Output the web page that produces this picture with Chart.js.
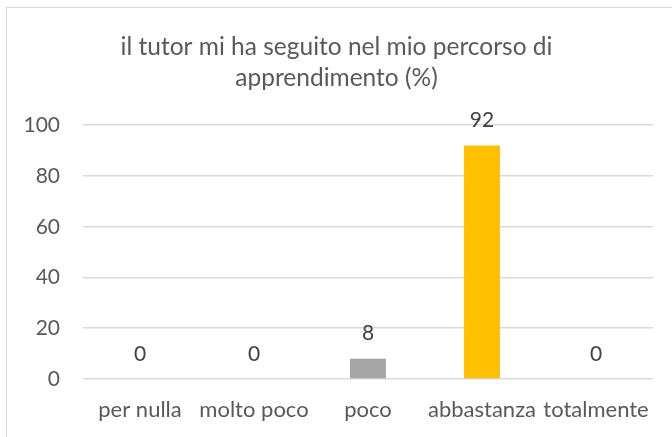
<!DOCTYPE html>
<html>
<head>
<meta charset="utf-8">
<script src="https://cdn.jsdelivr.net/npm/chart.js@4"></script>
<style>
  html, body { margin: 0; padding: 0; background: #fff; }
  body { width: 672px; height: 437px; position: relative; overflow: hidden; }
  #frame {
    position: absolute; left: 6px; top: 7px; right: -10px; bottom: -10px;
    border-left: 1.5px solid #d9d9d9; border-top: 1.5px solid #d9d9d9;
  }
  #wrap { position: absolute; left: 0; top: 0; width: 672px; height: 437px; }
</style>
</head>
<body>
<div id="frame"></div>
<div id="wrap"><canvas id="tutorCanvas" width="672" height="437"></canvas></div>
<script>
// Data
const categories = ['per nulla', 'molto poco', 'poco', 'abbastanza', 'totalmente'];
const percentages = [0, 0, 8, 92, 0];
const barColors = ['#4472C4', '#ED7D31', '#A5A5A5', '#FFC000', '#5B9BD5'];
const yTicks = [0, 20, 40, 60, 80, 100];
const titleLines = ['il tutor mi ha seguito nel mio percorso di', 'apprendimento (%)'];

const FONT = 'Lato, "Open Sans", sans-serif';

// value labels above the bars
const valueLabels = {
    id: 'valueLabels',
    afterDatasetsDraw(chart) {
        const ctx = chart.ctx;
        const meta = chart.getDatasetMeta(0);
        ctx.save();
        ctx.fillStyle = '#404040';
        ctx.font = '21px ' + FONT;
        ctx.textAlign = 'center';
        ctx.textBaseline = 'middle';
        meta.data.forEach((bar, i) => {
            ctx.fillText(String(percentages[i]), bar.x, bar.y - 25);
        });
        ctx.restore();
    }
};

const tutorContext = document.getElementById('tutorCanvas').getContext('2d');

new Chart(tutorContext, {
    type: 'bar',
    data: {
        labels: categories,
        datasets: [
            {
                label: 'il tutor mi ha seguito',
                data: percentages,
                backgroundColor: barColors,
                borderWidth: 0,
                categoryPercentage: 1,
                barPercentage: 0.315
            }
        ]
    },
    options: {
        responsive: false,
        animation: false,
        layout: {
            padding: { left: 20, right: 19, top: 31.5, bottom: 13 }
        },
        scales: {
            x: {
                afterFit(scale) { scale.height = 45; },
                grid: { display: false, drawTicks: false },
                border: { display: false },
                ticks: {
                    color: '#595959',
                    font: { family: FONT, size: 22 },
                    padding: 18,
                    maxRotation: 0,
                    autoSkip: false
                }
            },
            y: {
                min: 0,
                max: 100,
                afterFit(scale) { scale.width = 63; },
                afterBuildTicks(scale) { scale.ticks = yTicks.map(v => ({ value: v })); },
                grid: { color: '#d9d9d9', lineWidth: 1.5, drawTicks: false },
                border: { display: false },
                ticks: {
                    color: '#595959',
                    font: { family: FONT, size: 21 },
                    padding: 23
                }
            }
        },
        plugins: {
            legend: { display: false },
            tooltip: { enabled: false },
            title: {
                display: true,
                text: titleLines,
                color: '#595959',
                font: { family: FONT, size: 24.5, weight: 'normal', lineHeight: 1.27 },
                padding: { top: 0, bottom: 31.5 }
            }
        }
    },
    plugins: [valueLabels]
});
</script>
</body>
</html>
